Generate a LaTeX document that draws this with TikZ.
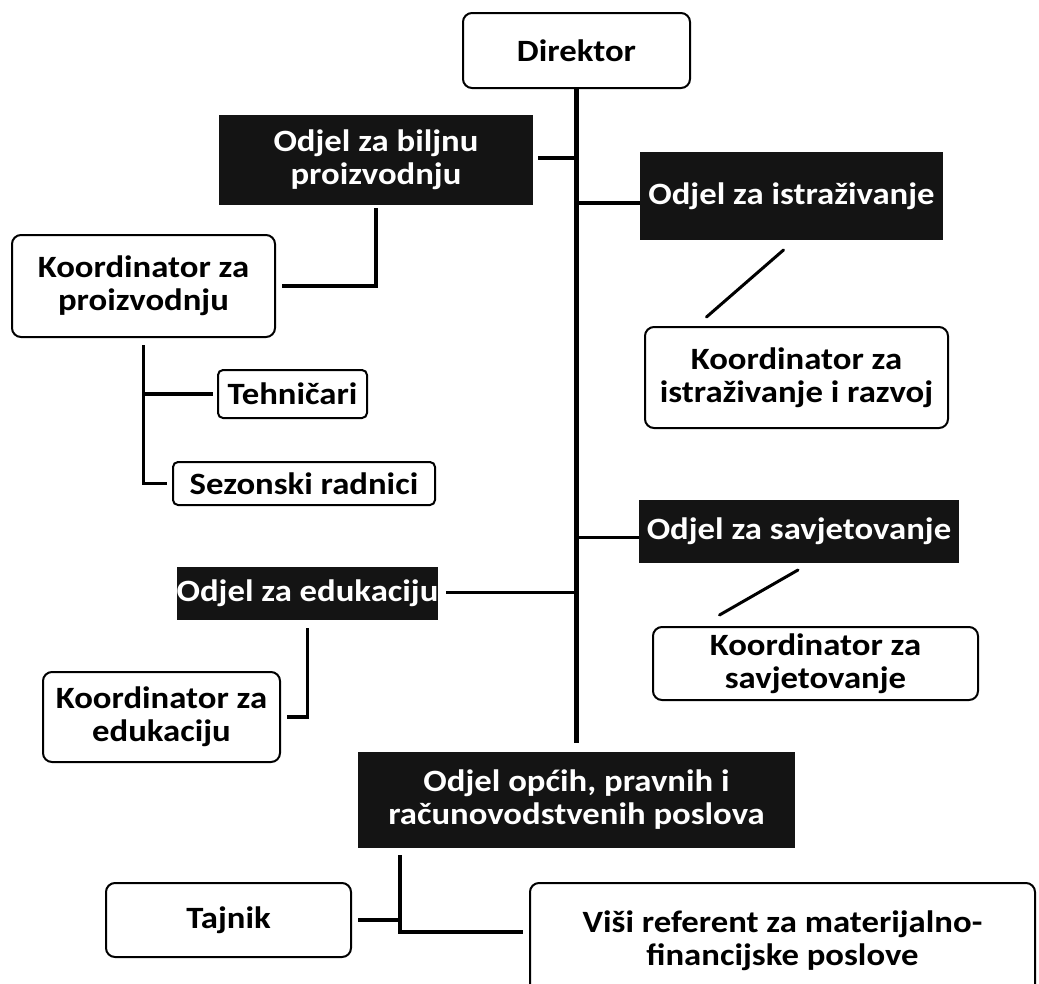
\documentclass[tikz,border=0pt]{standalone}
\usepackage{fontspec}
\setmainfont{Carlito}[FakeStretch=1.12]
\begin{document}
\begin{tikzpicture}[x=1pt,y=-1pt,
  base/.style={font=\fontsize{31}{33}\selectfont\bfseries, align=center, inner sep=0pt, outer sep=0pt},
  dark/.style={base, fill=black!92, text=white},
  roundbox/.style={base, draw, line width=2pt, rounded corners=9pt, fill=white},
  smallbox/.style={base, draw, line width=2pt, rounded corners=5pt, fill=white},
  conn/.style={line width=3.5pt},
  trunk/.style={line width=4.5pt},
  diag/.style={line width=3pt, line cap=round}]
\useasboundingbox (0,0) rectangle (1039,983);
\clip (0,0) rectangle (1039,983);

\node[roundbox, minimum width=227pt, minimum height=75pt] (dir) at (576.5,50.5) {Direktor};
\node[dark, minimum width=314pt, minimum height=90pt] (bil) at (376,160) {Odjel za biljnu\\proizvodnju};
\node[dark, minimum width=303pt, minimum height=88pt] (istr) at (791.5,196) {Odjel za istraživanje};
\node[roundbox, minimum width=303pt, minimum height=101pt] (kistr) at (796.5,377.5) {Koordinator za\\istraživanje i razvoj};
\node[roundbox, minimum width=263pt, minimum height=102pt] (kpro) at (143.5,286) {Koordinator za\\proizvodnju};
\node[smallbox, minimum width=149pt, minimum height=48pt] (teh) at (292.5,394) {Tehničari};
\node[smallbox, minimum width=262pt, minimum height=43pt] (sez) at (304,483.5) {Sezonski radnici};
\node[dark, minimum width=320pt, minimum height=63pt] (sav) at (799,531.5) {Odjel za savjetovanje};
\node[roundbox, minimum width=325pt, minimum height=73pt] (ksav) at (815.5,663.5) {Koordinator za\\savjetovanje};
\node[dark, minimum width=255pt, minimum height=53pt] (edu) at (307.5,593.5) {Odjel za edukaciju};
\node[roundbox, minimum width=237pt, minimum height=90pt] (kedu) at (161.5,717) {Koordinator za\\edukaciju};
\node[dark, minimum width=437pt, minimum height=96pt] (opc) at (576.5,800) {Odjel općih, pravnih i\\računovodstvenih poslova};
\node[roundbox, minimum width=245pt, minimum height=74pt] (taj) at (228.5,920) {Tajnik};
\node[roundbox, minimum width=505pt, minimum height=116pt] (visi) at (782.5,941) {Viši referent za materijalno-\\financijske poslove};

% trunk
\coordinate (trunkend) at ([yshift=9pt]opc.north);
\draw[trunk] (dir.south) -- (trunkend);

% branches from trunk
\coordinate (bilin) at ([xshift=5pt,yshift=2pt]bil.east);
\draw[conn] (bilin) -- (bilin -| dir.south);
\coordinate (istrin) at ([yshift=-7pt]istr.west);
\draw[conn] (istrin) -- (istrin -| dir.south);
\coordinate (savin) at ([yshift=-6pt]sav.west);
\draw[conn] (savin) -- (savin -| dir.south);
\coordinate (eduin) at ([xshift=8pt,yshift=1pt]edu.east);
\draw[conn] (eduin) -- (eduin -| dir.south);

% diagonals
\draw[diag] ([xshift=-8pt,yshift=-10pt]istr.south) -- ([xshift=-90pt,yshift=10pt]kistr.north);
\draw[diag] ([xshift=-1pt,yshift=-7pt]sav.south) -- ([xshift=-96pt,yshift=12pt]ksav.north);

% left branch
\draw[conn] ([yshift=-3pt]bil.south) |- ([xshift=7pt]kpro.east);
\coordinate (kprov) at ([yshift=-8pt]kpro.south);
\draw[conn] (kprov) |- ([xshift=-6pt]sez.west);
\draw[conn] (kprov |- teh.west) -- ([xshift=-5pt]teh.west);
\draw[conn] ([yshift=-8pt]edu.south) |- ([xshift=7pt]kedu.east);

% bottom
\coordinate (opcv) at ([xshift=42pt,yshift=-7pt]opc.south west);
\draw[conn] (opcv) |- ([xshift=-7pt,yshift=9pt]visi.west);
\draw[conn] ([xshift=7pt]taj.east) -- (taj.east -| opcv);
\end{tikzpicture}
\end{document}
